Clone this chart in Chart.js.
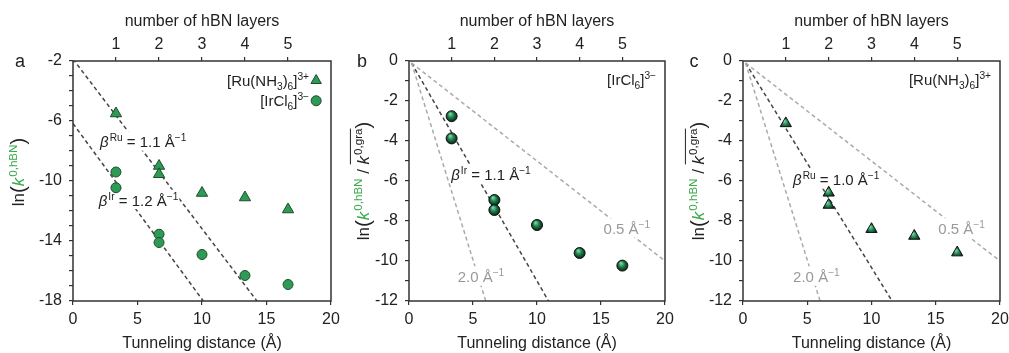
<!DOCTYPE html>
<html>
<head>
<meta charset="utf-8">
<script src="https://cdn.jsdelivr.net/npm/chart.js@4.4.0/dist/chart.umd.min.js"></script>
<style>
  body { margin: 0; background: #fff; }
  #wrap { position: relative; width: 1009px; height: 353px; }
  canvas { position: absolute; top: 0; }
</style>
</head>
<body>
<div id="wrap">
  <canvas id="chartA" width="350" height="353" style="left:0px"></canvas>
  <canvas id="chartB" width="350" height="353" style="left:336px"></canvas>
  <canvas id="chartC" width="337" height="353" style="left:672px"></canvas>
</div>
<script>
// ---- data ----
var layers = [1, 2, 3, 4, 5];              // top axis: number of hBN layers
var layersMax = 6;                          // 20 A / 3.33 A per layer

// panel a: ln(k0,hBN)
var ruDistA = [3.33, 6.67, 6.67, 10, 13.33, 16.67];
var ruLnkA  = [-5.5, -9.0, -9.55, -10.8, -11.1, -11.9];
var irDistA = [3.33, 3.33, 6.67, 6.67, 10, 13.33, 16.67];
var irLnkA  = [-9.4, -10.45, -13.55, -14.1, -14.9, -16.3, -16.9];
var fitRuA = [[0, -1.87], [14.26, -18]];
var fitIrA = [[0, -6.17], [10.1, -18]];

// panel b: ln(k0,hBN / k0,gra) for [IrCl6]3-
var irDistB = [3.33, 3.33, 6.67, 6.67, 10, 13.33, 16.67];
var irLnkB  = [-2.76, -3.87, -6.95, -7.45, -8.2, -9.6, -10.23];
var fitIrB = [[0.2, -0.1], [10.9, -12]];

// panel c: ln(k0,hBN / k0,gra) for [Ru(NH3)6]3+
var ruDistC = [3.33, 6.67, 6.67, 10, 13.33, 16.67];
var ruLnkC  = [-3.12, -6.59, -7.2, -8.41, -8.75, -9.58];
var fitRuC = [[0.2, -0.1], [11.6, -12]];

// reference slopes (0.5 and 2.0 A^-1)
var ref05 = [[0.2, -0.1], [20, -10]];
var ref20 = [[0.2, -0.1], [6, -12]];

var FONT = '"Liberation Sans", Arial, sans-serif';
var GREEN_TXT = '#3aaa4a';
var INK = '#222';

function pts(xs, ys) { return xs.map(function (x, i) { return {x: x, y: ys[i]}; }); }
function seg(s) { return s.map(function (p) { return {x: p[0], y: p[1]}; }); }

// draw a run of text pieces with sup/sub/italic/colour/overline
function drawRich(ctx, x, y, parts, size, align, bg) {
  var w = 0;
  var m = parts.map(function (p) {
    var s = (p.sup || p.sub) ? size * 0.68 : p.big ? size * 1.2 : size;
    var font = (p.it ? 'italic ' : '') + s + 'px ' + FONT;
    ctx.font = font;
    var pw = ctx.measureText(p.t).width;
    var r = {p: p, font: font, x: w, w: pw};
    w += pw + (p.it ? 1 : 0);
    return r;
  });
  var x0 = align === 'center' ? x - w / 2 : align === 'right' ? x - w : x;
  var base = y + size * 0.36;
  if (bg) {
    ctx.fillStyle = '#fff';
    ctx.fillRect(x0 - 1, y - size * 0.72, w + 2, size * 1.3);
  }
  ctx.textAlign = 'left';
  ctx.textBaseline = 'alphabetic';
  m.forEach(function (r) {
    ctx.font = r.font;
    ctx.fillStyle = r.p.c || INK;
    var dy = r.p.sup ? -size * 0.42 : r.p.sub ? size * 0.25 : r.p.big ? size * 0.08 : 0;
    ctx.fillText(r.p.t, x0 + r.x, base + dy);
  });
  var ol = m.filter(function (r) { return r.p.ol; });
  if (ol.length) {
    var last = ol[ol.length - 1];
    ctx.beginPath();
    ctx.strokeStyle = INK;
    ctx.lineWidth = 1;
    ctx.moveTo(x0 + ol[0].x, base - size * 1.1);
    ctx.lineTo(x0 + last.x + last.w, base - size * 1.1);
    ctx.stroke();
  }
}

var betaLabel = function (sup, val) {
  return [{t: '\u03B2', it: true}, {t: sup, sup: true}, {t: ' = ' + val + ' \u00C5'}, {t: '\u22121', sup: true}];
};
var grayLabel = function (val) {
  return [{t: val + ' \u00C5', c: '#999'}, {t: '\u22121', sup: true, c: '#999'}];
};
var ruName = [{t: '[Ru(NH'}, {t: '3', sub: true}, {t: ')'}, {t: '6', sub: true}, {t: ']'}, {t: '3+', sup: true}];
var irName = [{t: '[IrCl'}, {t: '6', sub: true}, {t: ']'}, {t: '3\u2212', sup: true}];

var titleA = [{t: 'ln'}, {t: '(', big: true}, {t: 'k', it: true, c: GREEN_TXT}, {t: '0,hBN', sup: true, c: GREEN_TXT},
  {t: ')', big: true}];
var titleBC = [{t: 'ln'}, {t: '(', big: true}, {t: 'k', it: true, c: GREEN_TXT}, {t: '0,hBN', sup: true, c: GREEN_TXT},
  {t: ' / '}, {t: 'k', it: true, ol: true}, {t: '0,gra', sup: true, ol: true}, {t: ')', big: true}];

// panel decorations: notes go between the dashed lines and the markers,
// frame / y title / letter / legend markers on top
function decor(cfg) {
  var notesDone = false;
  function drawNotes(chart) {
    var ctx = chart.ctx, sx = chart.scales.x, sy = chart.scales.y;
    ctx.save();
    cfg.notes.forEach(function (n) {
      drawRich(ctx, sx.getPixelForValue(n.x), sy.getPixelForValue(n.y), n.parts, n.size || 15,
        n.align || 'left', !n.align);
    });
    ctx.restore();
    notesDone = true;
  }
  return {
    id: 'decor',
    beforeDatasetsDraw: function () { notesDone = false; },
    beforeDatasetDraw: function (chart, args) {
      if (!notesDone && !chart.data.datasets[args.index].showLine) drawNotes(chart);
    },
    afterDatasetsDraw: function (chart) {
      if (!notesDone) drawNotes(chart);
      var ctx = chart.ctx, a = chart.chartArea;
      var sx = chart.scales.x, sy = chart.scales.y;
      ctx.save();
      (cfg.marks || []).forEach(function (mk) {
        ctx.fillStyle = mk.bg;
        ctx.strokeStyle = mk.border;
        ctx.lineWidth = 1;
        Chart.helpers.drawPoint(ctx, {pointStyle: mk.style, radius: mk.r, rotation: 0, borderWidth: 1},
          sx.getPixelForValue(mk.x), sy.getPixelForValue(mk.y));
      });

      ctx.strokeStyle = '#333';
      ctx.lineWidth = 1.5;
      ctx.strokeRect(a.left, a.top, a.right - a.left, a.bottom - a.top);

      ctx.translate(cfg.titleX, (a.top + a.bottom) / 2 + cfg.titleDY);
      ctx.rotate(-Math.PI / 2);
      drawRich(ctx, 0, 0, cfg.title, 17, 'center');
      ctx.setTransform(1, 0, 0, 1, 0, 0);

      ctx.font = '18px ' + FONT;
      ctx.fillStyle = INK;
      ctx.textAlign = 'center';
      ctx.textBaseline = 'middle';
      ctx.fillText(cfg.letter, cfg.letterX, a.top + 1);
      ctx.restore();
    }
  };
}

function sphere(context) {
  var chart = context.chart, p = context.parsed;
  if (!p || !chart.scales.x) return '#1b7a48';
  var px = chart.scales.x.getPixelForValue(p.x), py = chart.scales.y.getPixelForValue(p.y);
  if (!isFinite(px) || !isFinite(py)) return '#1b7a48';
  var g = chart.ctx.createRadialGradient(px - 1.5, py - 2.5, 0.5, px, py, 6);
  g.addColorStop(0, '#7fd3a4');
  g.addColorStop(0.45, '#1c7f4b');
  g.addColorStop(1, '#05190d');
  return g;
}

function fitLine(s, color) {
  return {data: seg(s), showLine: true, pointRadius: 0, borderColor: color, borderWidth: 1.5,
    borderDash: [4, 3], fill: false, order: 2};
}

function noPadX(s, h) {
  s.height = h;
  s.paddingLeft = 0;
  s.paddingRight = 0;
}

function makeChart(id, cfg) {
  var yTicks = cfg.yLabelEvery;
  return new Chart(document.getElementById(id), {
    type: 'scatter',
    data: {datasets: cfg.datasets},
    options: {
      responsive: false,
      animation: false,
      layout: {padding: {left: 0, right: cfg.padRight, top: 0, bottom: 0}},
      plugins: {legend: {display: false}, tooltip: {enabled: false}},
      scales: {
        x: {
          type: 'linear', position: 'bottom', min: 0, max: 20,
          afterFit: function (s) { noPadX(s, 52); },
          border: {display: false},
          grid: {drawOnChartArea: false, tickLength: 4, color: '#333', lineWidth: 1.2},
          ticks: {stepSize: 5, padding: 5, color: INK, font: {family: FONT, size: 16}, maxRotation: 0},
          title: {display: true, text: 'Tunneling distance (\u00C5)', color: INK,
            font: {family: FONT, size: 16}, padding: {top: 0, bottom: 0}}
        },
        x2: {
          type: 'linear', position: 'top', min: 0, max: layersMax,
          afterFit: function (s) { noPadX(s, 61); },
          afterBuildTicks: function (s) { s.ticks = layers.map(function (v) { return {value: v}; }); },
          border: {display: false},
          grid: {drawOnChartArea: false, tickLength: 4, color: '#333', lineWidth: 1.2},
          ticks: {padding: 3, color: INK, font: {family: FONT, size: 16}, maxRotation: 0, autoSkip: false},
          title: {display: true, text: 'number of hBN layers', color: INK,
            font: {family: FONT, size: 16}, padding: {top: 12, bottom: 0}}
        },
        y: {
          type: 'linear', min: cfg.yMin, max: cfg.yMax,
          afterFit: function (s) { s.width = cfg.yWidth; s.paddingTop = 0; s.paddingBottom = 0; },
          border: {display: false},
          grid: {drawOnChartArea: false, tickLength: 4, color: '#333', lineWidth: 1.2},
          ticks: {
            stepSize: 1, padding: 7, autoSkip: false, color: INK, font: {family: FONT, size: 16},
            callback: function (v) { return ((v - cfg.yMax) % yTicks === 0) ? String(v) : ''; }
          }
        }
      }
    },
    plugins: [decor(cfg)]
  });
}

makeChart('chartA', {
  yMin: -18, yMax: -2, yLabelEvery: 4, yWidth: 73, padRight: 19,
  titleX: 18, titleDY: -9, letter: 'a', letterX: 20, title: titleA,
  datasets: [
    fitLine(fitRuA, '#444'),
    fitLine(fitIrA, '#444'),
    {data: pts(ruDistA, ruLnkA), pointStyle: 'triangle', pointRadius: 6.5, backgroundColor: '#2f9a55',
      borderColor: '#1d4d2c', borderWidth: 1, order: 1},
    {data: pts(irDistA, irLnkA), pointStyle: 'circle', pointRadius: 5, backgroundColor: '#2f9a55',
      borderColor: '#1d4d2c', borderWidth: 1, order: 1}
  ],
  notes: [
    {x: 2.1, y: -7.4, parts: betaLabel('Ru', '1.1')},
    {x: 2.0, y: -11.3, parts: betaLabel('Ir', '1.2')},
    {x: 18.3, y: -3.3, parts: ruName, align: 'right'},
    {x: 18.3, y: -4.65, parts: irName, align: 'right'}
  ],
  marks: [
    {x: 18.85, y: -3.3, style: 'triangle', r: 6, bg: '#2f9a55', border: '#1d4d2c'},
    {x: 18.85, y: -4.65, style: 'circle', r: 5, bg: '#2f9a55', border: '#1d4d2c'}
  ]
});

makeChart('chartB', {
  yMin: -12, yMax: 0, yLabelEvery: 2, yWidth: 73, padRight: 21,
  titleX: 27, titleDY: 0, letter: 'b', letterX: 26, title: titleBC,
  datasets: [
    fitLine(ref05, '#aaa'),
    fitLine(ref20, '#aaa'),
    fitLine(fitIrB, '#444'),
    {data: pts(irDistB, irLnkB), pointStyle: 'circle', pointRadius: 5.5, backgroundColor: sphere,
      borderColor: '#111', borderWidth: 1, order: 1}
  ],
  notes: [
    {x: 3.3, y: -5.7, parts: betaLabel('Ir', '1.1')},
    {x: 15.2, y: -8.4, parts: grayLabel('0.5')},
    {x: 3.8, y: -10.8, parts: grayLabel('2.0')},
    {x: 19.3, y: -0.95, parts: irName, align: 'right'}
  ]
});

makeChart('chartC', {
  yMin: -12, yMax: 0, yLabelEvery: 2, yWidth: 71, padRight: 9,
  titleX: 26, titleDY: 0, letter: 'c', letterX: 22, title: titleBC,
  datasets: [
    fitLine(ref05, '#aaa'),
    fitLine(ref20, '#aaa'),
    fitLine(fitRuC, '#444'),
    {data: pts(ruDistC, ruLnkC), pointStyle: 'triangle', pointRadius: 6.5, backgroundColor: sphere,
      borderColor: '#111', borderWidth: 1, order: 1}
  ],
  notes: [
    {x: 3.9, y: -5.95, parts: betaLabel('Ru', '1.0')},
    {x: 15.2, y: -8.4, parts: grayLabel('0.5')},
    {x: 3.9, y: -10.8, parts: grayLabel('2.0')},
    {x: 19.3, y: -0.95, parts: ruName, align: 'right'}
  ]
});
</script>
</body>
</html>
